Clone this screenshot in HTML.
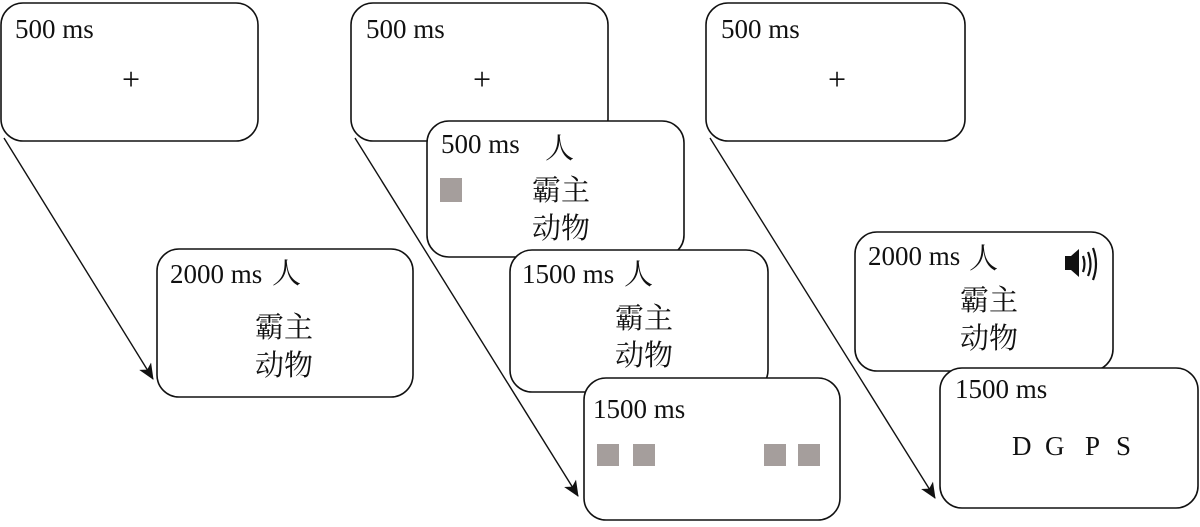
<!DOCTYPE html>
<html><head><meta charset="utf-8"><style>
html,body{margin:0;padding:0;background:#fff;}
svg text{font-family:"Liberation Serif","Noto Serif CJK SC",serif;fill:#111;}
.c{font-size:29px;}
.t{font-size:27px;}
.p{font-size:32px;}
</style></head><body>
<svg width="1200" height="522" viewBox="0 0 1200 522" xmlns="http://www.w3.org/2000/svg">
<defs><marker id="a" markerWidth="18" markerHeight="16" refX="15" refY="7" orient="auto" markerUnits="userSpaceOnUse"><path d="M0,0 L16,7 L0,14 L4,7 Z" fill="#111"/></marker></defs>
<g stroke="#111" stroke-width="1.4" fill="none">
<line x1="4" y1="138" x2="153" y2="379" marker-end="url(#a)"/>
<line x1="355" y1="138" x2="578" y2="496" marker-end="url(#a)"/>
<line x1="710" y1="138" x2="935" y2="498" marker-end="url(#a)"/>
</g>
<g stroke="#111" stroke-width="1.6" fill="#fff">
<rect x="1" y="3" width="257" height="138" rx="22"/>
<rect x="157" y="249" width="256" height="148" rx="22"/>
<rect x="351" y="3" width="257" height="138" rx="22"/>
<rect x="427" y="121" width="257" height="136" rx="22"/>
<rect x="510" y="250" width="258" height="142" rx="22"/>
<rect x="584" y="378" width="256" height="142" rx="22"/>
<rect x="706" y="3" width="259" height="138" rx="22"/>
<rect x="855" y="232" width="258" height="139" rx="22"/>
<rect x="940" y="368" width="258" height="140" rx="22"/>
</g>
<text class="t" x="15" y="38">500 ms</text>
<text class="p" x="122" y="90">+</text>
<text class="t" x="170" y="283">2000 ms</text>
<text class="c" x="272" y="283">人</text>
<text class="c" x="255" y="337">霸主</text>
<text class="c" x="255" y="375">动物</text>

<text class="t" x="366" y="38">500 ms</text>
<text class="p" x="473" y="90">+</text>
<text class="t" x="441" y="153">500 ms</text>
<text class="c" x="545" y="158">人</text>
<rect x="440" y="178" width="22" height="24" fill="#a59e9c"/>
<text class="c" x="532" y="200">霸主</text>
<text class="c" x="532" y="238">动物</text>
<text class="t" x="522" y="283">1500 ms</text>
<text class="c" x="624" y="284">人</text>
<text class="c" x="615" y="328">霸主</text>
<text class="c" x="615" y="365">动物</text>
<text class="t" x="593" y="418">1500 ms</text>
<rect x="597" y="444" width="22" height="22" fill="#a59e9c"/>
<rect x="633" y="444" width="22" height="22" fill="#a59e9c"/>
<rect x="764" y="444" width="22" height="22" fill="#a59e9c"/>
<rect x="798" y="444" width="22" height="22" fill="#a59e9c"/>

<text class="t" x="721" y="38">500 ms</text>
<text class="p" x="828" y="90">+</text>
<text class="t" x="868" y="265">2000 ms</text>
<text class="c" x="969" y="268">人</text>
<path d="M1065,256 h6 l8,-7 v28 l-8,-7 h-6 z" fill="#111"/>
<g stroke="#111" stroke-width="2.2" fill="none">
<path d="M1083,256 q3,8 0,16"/><path d="M1088,252 q5,12 0,24"/><path d="M1093,248 q6,16 0,32"/>
</g>
<text class="c" x="960" y="310">霸主</text>
<text class="c" x="960" y="348">动物</text>
<text class="t" x="955" y="398">1500 ms</text>
<text class="t" x="1012" y="455">D</text>
<text class="t" x="1045" y="455">G</text>
<text class="t" x="1085" y="455">P</text>
<text class="t" x="1116" y="455">S</text>
</svg>
</body></html>
